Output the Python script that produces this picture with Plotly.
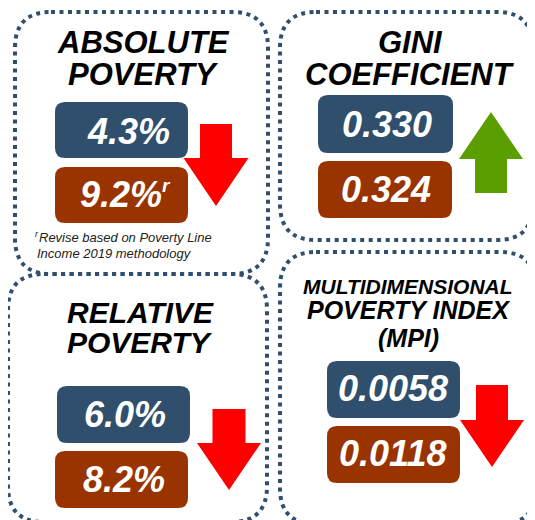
"""
Poverty and inequality indicators - four dotted panels with current vs previous value
"""

import plotly.graph_objects as go

# Data
title_lines = [
    ["ABSOLUTE", "POVERTY"],
    ["GINI", "COEFFICIENT"],
    ["RELATIVE", "POVERTY"],
    ["MULTIDIMENSIONAL", "POVERTY INDEX", "(MPI)"],
]
latest_values = ["4.3%", "0.330", "6.0%", "0.0058"]
previous_values = ["9.2%", "0.324", "8.2%", "0.0118"]
previous_marks = ["r", "", "", ""]
directions = ["down", "up", "down", "down"]
footnote_lines = ["Revise based on Poverty Line", "Income 2019 methodology"]

# Colours
BLUE = "#2F4F6D"
BROWN = "#993300"
RED = "#FF0000"
GREEN = "#5A9E00"
FONT = "Liberation Sans, Arial, sans-serif"

# Page body adds an 8px margin; the axes are offset so that
# coordinates below are window pixels
PAGE_MARGIN = 8
W, H = 535, 520

# Panel geometry in pixels (x0, y0, x1, y1)
panels = [
    dict(
        frame=(15, 12, 268, 274),
        top_box=(55, 102, 188, 158),
        low_box=(55, 167, 188, 223),
        arrow=dict(cx=216, sw=32, hw=65, tail=124, base=158, tip=206),
        title_y=[42.5, 74], title_x=143, title_size=[31, 31],
        value_x=[128, 121], value_y=[131, 194.5],
    ),
    dict(
        frame=(280, 12, 533, 240),
        top_box=(318, 95, 453, 153),
        low_box=(318, 161, 452, 218),
        arrow=dict(cx=491, sw=32, hw=64, tail=193, base=159, tip=112),
        title_y=[42.5, 74], title_x=410, title_size=[31, 31],
        value_x=[387, 386], value_y=[124.5, 189.5],
    ),
    dict(
        frame=(8, 274, 267, 522),
        top_box=(57, 386, 190, 443),
        low_box=(55, 451, 188, 508),
        arrow=dict(cx=229, sw=33, hw=64, tail=409, base=443, tip=490),
        title_y=[312.5, 342.5], title_x=140, title_size=[30, 30],
        value_x=[125, 123.5], value_y=[414.5, 479.5],
    ),
    dict(
        frame=(280, 252, 536, 524),
        top_box=(327, 361, 460, 418),
        low_box=(327, 426, 460, 483),
        arrow=dict(cx=492, sw=32, hw=64, tail=385, base=420, tip=467),
        title_y=[286, 310, 338], title_x=408, title_size=[21, 25, 25],
        value_x=[392.5, 392.5], value_y=[388.5, 453.5],
    ),
]


def rounded_path(x0, y0, x1, y1, r):
    return (
        f"M{x0 + r},{y0} L{x1 - r},{y0} Q{x1},{y0} {x1},{y0 + r} "
        f"L{x1},{y1 - r} Q{x1},{y1} {x1 - r},{y1} L{x0 + r},{y1} "
        f"Q{x0},{y1} {x0},{y1 - r} L{x0},{y0 + r} Q{x0},{y0} {x0 + r},{y0} Z"
    )


def arrow_path(cx, sw, hw, tail, base, tip):
    s, h = sw / 2, hw / 2
    return (
        f"M{cx - s},{tail} L{cx + s},{tail} L{cx + s},{base} L{cx + h},{base} "
        f"L{cx},{tip} L{cx - h},{base} L{cx - s},{base} Z"
    )


fig = go.Figure()

for i, p in enumerate(panels):
    # Dotted frame
    fig.add_shape(
        type="path",
        path=rounded_path(*p["frame"], 36),
        line=dict(color=BLUE, width=4, dash="4px,4.5px"),
        fillcolor="rgba(0,0,0,0)",
    )

    # Value boxes
    for box, color in [(p["top_box"], BLUE), (p["low_box"], BROWN)]:
        fig.add_shape(
            type="path",
            path=rounded_path(*box, 10),
            line=dict(width=0),
            fillcolor=color,
        )

    # Trend arrow
    fig.add_shape(
        type="path",
        path=arrow_path(**p["arrow"]),
        line=dict(width=0),
        fillcolor=GREEN if directions[i] == "up" else RED,
    )

    # Title
    for line, y, size in zip(title_lines[i], p["title_y"], p["title_size"]):
        fig.add_annotation(
            text=line, x=p["title_x"], y=y, showarrow=False,
            xanchor="center", yanchor="middle",
            font=dict(family=FONT, size=size, color="black", weight="bold", style="italic"),
        )

    # Values
    for val, x, y in zip([latest_values[i], previous_values[i]], p["value_x"], p["value_y"]):
        fig.add_annotation(
            text=val, x=x, y=y, showarrow=False,
            xanchor="center", yanchor="middle",
            font=dict(family=FONT, size=36, color="white", weight="bold", style="italic"),
        )

    if previous_marks[i]:
        fig.add_annotation(
            text=previous_marks[i], x=160, y=185, showarrow=False,
            xanchor="left", yanchor="middle",
            font=dict(family=FONT, size=19, color="white", weight="bold", style="italic"),
        )

# Footnote under absolute poverty
fig.add_annotation(
    text="r", x=33, y=234, showarrow=False,
    xanchor="left", yanchor="middle",
    font=dict(family=FONT, size=9, color="#222222", style="italic"),
)
fig.add_annotation(
    text=footnote_lines[0], x=37, y=237, showarrow=False,
    xanchor="left", yanchor="middle",
    font=dict(family=FONT, size=13, color="#222222", style="italic"),
)
fig.add_annotation(
    text=footnote_lines[1], x=35, y=253, showarrow=False,
    xanchor="left", yanchor="middle",
    font=dict(family=FONT, size=13, color="#222222", style="italic"),
)

fig.update_layout(
    width=W - PAGE_MARGIN,
    height=H - PAGE_MARGIN,
    margin=dict(l=0, r=0, t=0, b=0),
    paper_bgcolor="white",
    plot_bgcolor="white",
    showlegend=False,
    xaxis=dict(range=[PAGE_MARGIN, W], visible=False, fixedrange=True),
    yaxis=dict(range=[H, PAGE_MARGIN], visible=False, fixedrange=True),
)

fig.write_html("out.html")
